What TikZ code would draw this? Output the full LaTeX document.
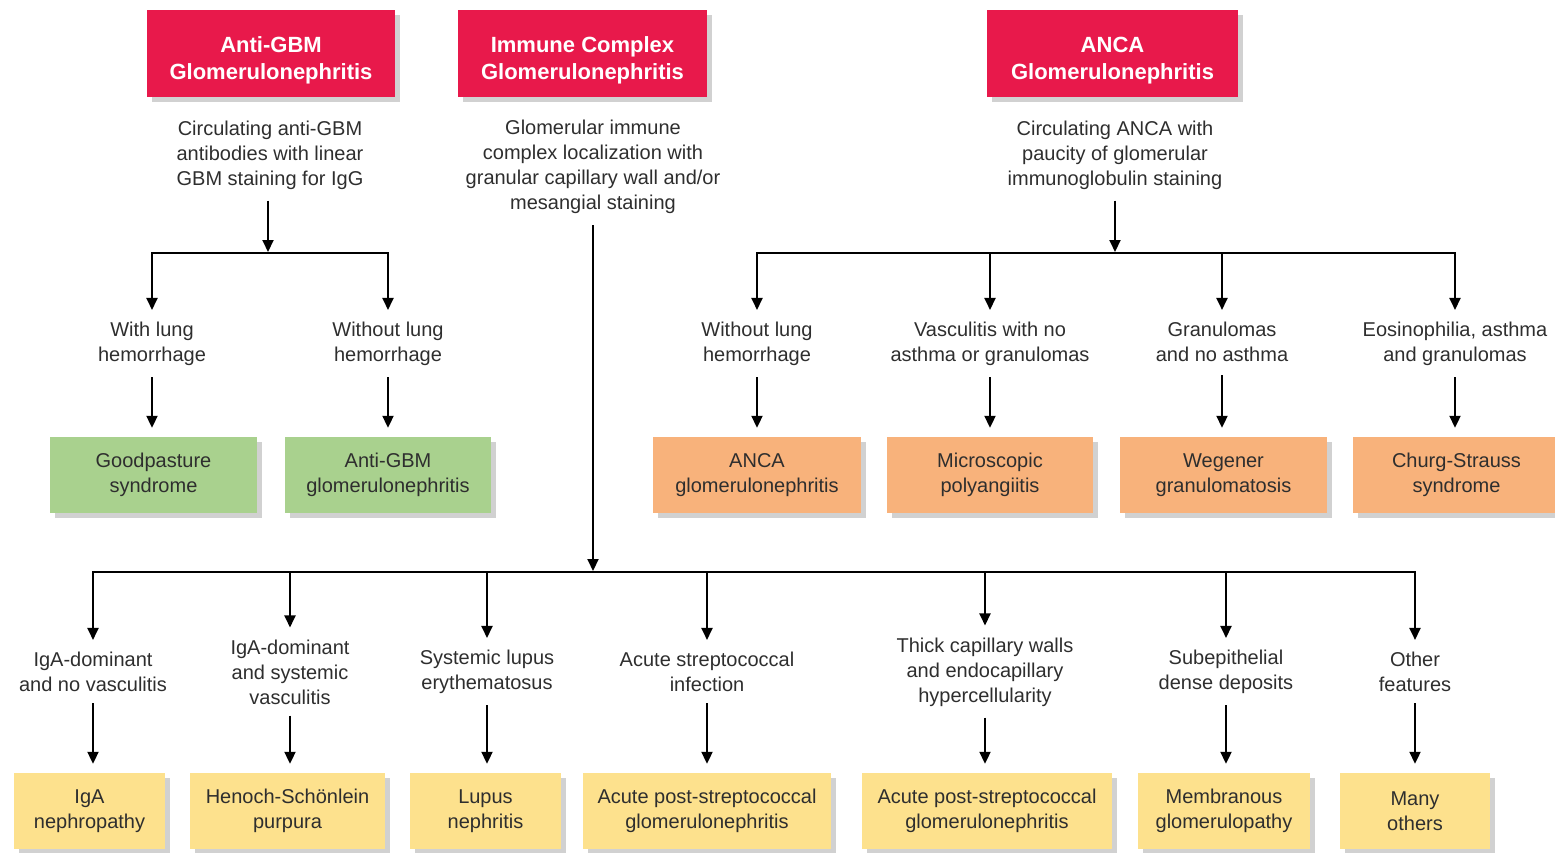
\documentclass[tikz,border=0pt]{standalone}
\usepackage{fontspec}
\setmainfont{Liberation Sans}
\usetikzlibrary{arrows.meta,shadows}
\definecolor{hdrred}{HTML}{E8194B}
\definecolor{gbmgreen}{HTML}{A9D18E}
\definecolor{ancaorange}{HTML}{F8B27B}
\definecolor{icyellow}{HTML}{FDE18D}
\definecolor{txtgray}{HTML}{2E2E2E}
\newcommand{\hdrstrut}{\rule{0pt}{30pt}}

\tikzset{
  boxshadow/.style={drop shadow={shadow xshift=5pt,shadow yshift=-5pt,opacity=0.3,fill=black!60}},
  header/.style={fill=hdrred,text=white,font=\fontsize{22}{27}\selectfont\bfseries,
    align=center,minimum height=87pt,inner sep=0pt,boxshadow},
  txt/.style={font=\fontsize{20}{25}\selectfont,align=center,text=txtgray,inner sep=3pt},
  result/.style={font=\fontsize{20}{25}\selectfont,align=center,text=txtgray,
    minimum height=76pt,inner sep=0pt,boxshadow},
  arr/.style={-{Triangle[length=12pt,width=11pt]},line width=2pt,shorten >=9pt},
}

\begin{document}
\begin{tikzpicture}[x=1pt,y=-1pt]
  \useasboundingbox (0,0) rectangle (1555,852);

  % Headers
  \node[header,minimum width=248pt] (hgbm) at (271,53.5) {\hdrstrut Anti-GBM\\Glomerulonephritis};
  \node[header,minimum width=249pt] (hic) at (582.5,53.5) {\hdrstrut Immune Complex\\Glomerulonephritis};
  \node[header,minimum width=251pt] (hanca) at (1112.5,53.5) {\hdrstrut ANCA\\Glomerulonephritis};

  % Descriptions
  \node[txt] (dgbm) at (270,155) {Circulating anti-GBM\\antibodies with linear\\GBM staining for IgG};
  \node[txt] (dic) at (593,167) {Glomerular immune\\complex localization with\\granular capillary wall and/or\\mesangial staining};
  \node[txt] (danca) at (1115,155) {Circulating ANCA with\\paucity of glomerular\\immunoglobulin staining};

  \coordinate (jgbm) at (268,253);
  \coordinate (janca) at (1115,253);
  \coordinate (jic) at (593,572);

  % Anti-GBM branch
  \node[txt] (wlung) at (152,344) {With lung\\hemorrhage};
  \node[txt] (wolung) at (388,344) {Without lung\\hemorrhage};
  \node[result,fill=gbmgreen,minimum width=207pt] (goodp) at (153.5,475) {Goodpasture\\syndrome};
  \node[result,fill=gbmgreen,minimum width=206pt] (agbm) at (388,475) {Anti-GBM\\glomerulonephritis};

  \draw[arr,shorten <=8pt,shorten >=1pt] (dgbm.south -| jgbm) -- (jgbm);
  \draw[arr] (jgbm) -| (wlung);
  \draw[arr] (jgbm) -| (wolung);
  \draw[arr,shorten <=8pt] (wlung) -- (wlung |- goodp.north);
  \draw[arr,shorten <=8pt] (wolung) -- (wolung |- agbm.north);

  % ANCA branch
  \node[txt] (awolung) at (757,344) {Without lung\\hemorrhage};
  \node[txt] (avasc) at (990,344) {Vasculitis with no\\asthma or granulomas};
  \node[txt] (agran) at (1222,342) {Granulomas\\and no asthma};
  \node[txt] (aeos) at (1455,344) {Eosinophilia, asthma\\and granulomas};
  \node[result,fill=ancaorange,minimum width=208pt] (ancagn) at (757,475) {ANCA\\glomerulonephritis};
  \node[result,fill=ancaorange,minimum width=206pt] (mpa) at (990,475) {Microscopic\\polyangiitis};
  \node[result,fill=ancaorange,minimum width=207pt] (wegener) at (1223.5,475) {Wegener\\granulomatosis};
  \node[result,fill=ancaorange,minimum width=207pt] (churg) at (1456.5,475) {Churg-Strauss\\syndrome};

  \draw[arr,shorten <=8pt,shorten >=1pt] (danca) -- (janca);
  \draw[arr] (janca) -| (awolung);
  \draw[arr] (janca) -| (avasc);
  \draw[arr] (janca) -| (agran);
  \draw[arr] (janca) -| (aeos);
  \draw[arr,shorten <=8pt] (awolung) -- (awolung |- ancagn.north);
  \draw[arr,shorten <=8pt] (avasc) -- (avasc |- mpa.north);
  \draw[arr,shorten <=8pt] (agran.south) ++(0,2) -- (agran |- wegener.north);
  \draw[arr,shorten <=8pt] (aeos) -- (aeos |- churg.north);

  % Immune complex branch
  \node[txt] (iganv) at (93,672) {IgA-dominant\\and no vasculitis};
  \node[txt] (igasv) at (290,672) {IgA-dominant\\and systemic\\vasculitis};
  \node[txt] (sle) at (487,672) {Systemic lupus\\erythematosus};
  \node[txt] (strep) at (707,672) {Acute streptococcal\\infection};
  \node[txt] (thick) at (985,672) {Thick capillary walls\\and endocapillary\\hypercellularity};
  \node[txt] (subep) at (1226,672) {Subepithelial\\dense deposits};
  \node[txt] (other) at (1415,672) {Other\\features};
  \node[result,fill=icyellow,minimum width=151pt] (igan) at (89.5,811) {IgA\\nephropathy};
  \node[result,fill=icyellow,minimum width=195pt] (hsp) at (287.5,811) {Henoch-Schönlein\\purpura};
  \node[result,fill=icyellow,minimum width=151pt] (lupus) at (485.5,811) {Lupus\\nephritis};
  \node[result,fill=icyellow,minimum width=248pt] (apsgn) at (707,811) {Acute post-streptococcal\\glomerulonephritis};
  \node[result,fill=icyellow,minimum width=250pt] (apsgnb) at (987,811) {Acute post-streptococcal\\glomerulonephritis};
  \node[result,fill=icyellow,minimum width=172pt] (memb) at (1224,811) {Membranous\\glomerulopathy};
  \node[result,fill=icyellow,minimum width=150pt] (many) at (1415,811) {Many\\others};

  \draw[arr,shorten <=8pt,shorten >=1pt] (dic) -- (jic);
  \draw[arr] (jic) -| (iganv);
  \draw[arr] (jic) -| (igasv);
  \draw[arr] (jic) -| (sle);
  \draw[arr] (jic) -| (strep);
  \draw[arr] (jic) -| (thick);
  \draw[arr] (jic) -| (subep);
  \draw[arr] (jic) -| (other);
  \draw[arr,shorten <=8pt] (iganv) -- (iganv |- igan.north);
  \draw[arr,shorten <=8pt] (igasv) -- (igasv |- hsp.north);
  \draw[arr,shorten <=8pt] (sle) -- (sle |- lupus.north);
  \draw[arr,shorten <=8pt] (strep) -- (strep |- apsgn.north);
  \draw[arr,shorten <=8pt] (thick) -- (thick |- apsgnb.north);
  \draw[arr,shorten <=8pt] (subep) -- (subep |- memb.north);
  \draw[arr,shorten <=8pt] (other) -- (other |- many.north);
\end{tikzpicture}
\end{document}
